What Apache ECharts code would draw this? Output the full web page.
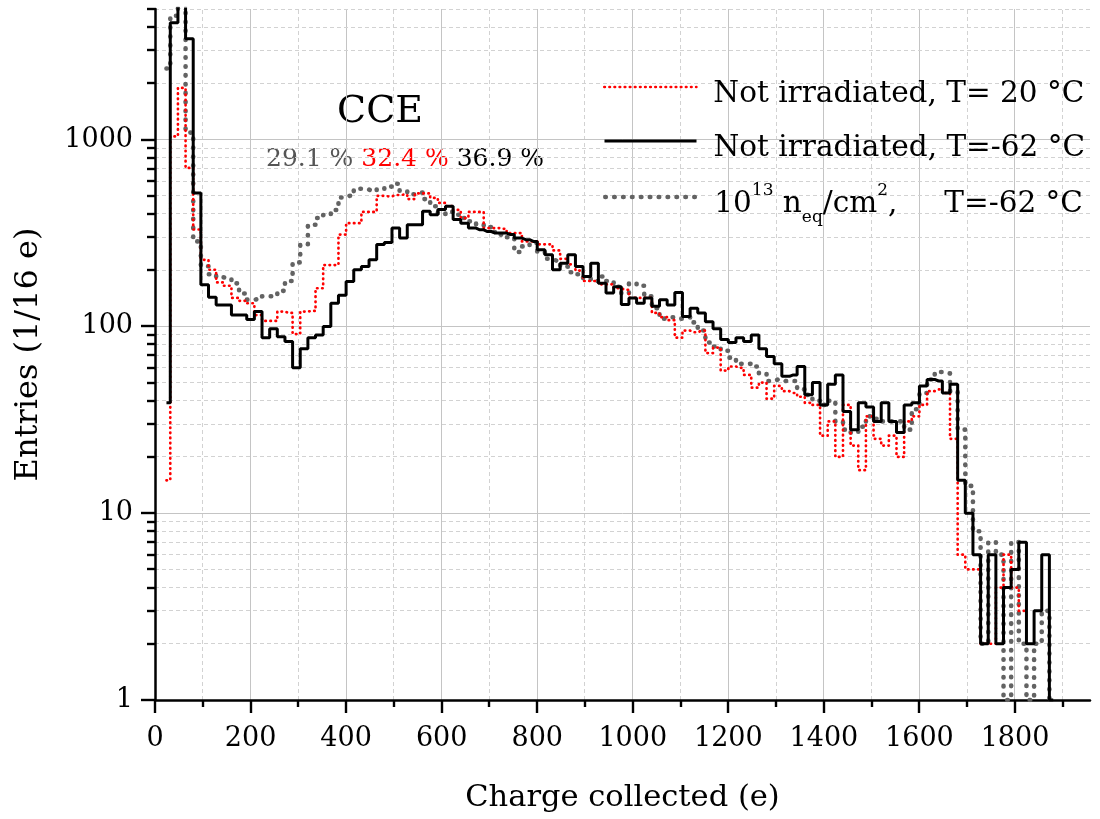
<!DOCTYPE html>
<html>
<head>
<meta charset="utf-8">
<script src="https://cdn.jsdelivr.net/npm/echarts@6/dist/echarts.min.js"></script>
<style>
  html, body { margin: 0; padding: 0; background: #ffffff; }
  #chart { width: 1100px; height: 819px; }
</style>
</head>
<body>
<div id="chart"></div>
<script>
// Bin centres of the charge histograms (16 e wide bins)
const charge = [
  24, 40, 56, 72, 88, 104, 120, 136, 152, 168, 184, 200, 216, 232, 248, 264, 280, 296, 312, 328,
  344, 360, 376, 392, 408, 424, 440, 456, 472, 488, 504, 520, 536, 552, 568, 584, 600, 616, 632, 648,
  664, 680, 696, 712, 728, 744, 760, 776, 792, 808, 824, 840, 856, 872, 888, 904, 920, 936, 952, 968,
  984, 1000, 1016, 1032, 1048, 1064, 1080, 1096, 1112, 1128, 1144, 1160, 1176, 1192, 1208, 1224, 1240, 1256, 1272, 1288,
  1304, 1320, 1336, 1352, 1368, 1384, 1400, 1416, 1432, 1448, 1464, 1480, 1496, 1512, 1528, 1544, 1560, 1576, 1592, 1608,
  1624, 1640, 1656, 1672, 1688, 1704, 1720, 1736, 1752, 1768, 1784, 1800, 1816, 1832, 1848, 1864, 1880
];

// Not irradiated, T = 20 °C
const notIrradiated20 = [
  15, 1040, 1890, 705, 330, 227, 201, 172, 165, 142, 137, 133, 115, 107, 107, 120, 118, 91, 120, 121,
  160, 213, 213, 310, 357, 357, 410, 410, 500, 497, 505, 507, 480, 515, 515, 487, 458, 440, 420, 380,
  410, 410, 336, 336, 333, 316, 316, 285, 285, 275, 275, 255, 230, 215, 199, 175, 175, 168, 168, 160,
  157, 142, 142, 142, 118, 112, 108, 87, 95, 93, 95, 72, 77, 58, 61, 60, 55, 47, 50, 41,
  48, 45, 44, 42, 39, 38, 26, 31, 20, 38, 23, 17, 33, 25, 23, 26, 20, 31, 33, 38,
  45, 46, 44, 25, 6, 5, 5, 2, 2, 4, 6, 4, 3, null, null, null, null
];

// Not irradiated, T = -62 °C
const notIrradiatedM62 = [
  39, 4225, 5600, 3470, 518, 167, 143, 130, 130, 115, 115, 109, 120, 87, 97, 88, 83, 60, 76, 87,
  90, 100, 133, 147, 174, 201, 209, 227, 274, 281, 336, 297, 350, 350, 413, 396, 422, 440, 373, 357,
  336, 329, 322, 316, 316, 310, 297, 291, 285, 257, 242, 201, 218, 242, 209, 185, 218, 170, 151, 163,
  131, 142, 133, 142, 128, 139, 130, 152, 113, 125, 118, 106, 97, 85, 82, 87, 83, 90, 76, 69,
  63, 54, 55, 61, 43, 50, 38, 49, 55, 35, 28, 39, 37, 31, 39, 31, 27, 38, 39, 48,
  52, 51, 44, 49, 15, 10, 6, 2, 6, 2, 4, 5, 7, 2, 3, 6, 1
];

// 10^13 n_eq/cm^2, T = -62 °C
const irradiatedM62 = [
  2400, 4600, 5500, 1090, 285, 210, 190, 183, 180, 170, 150, 139, 140, 145, 145, 155, 175, 220, 275, 350,
  380, 395, 420, 490, 500, 545, 540, 530, 545, 560, 580, 530, 510, 520, 480, 440, 400, 410, 396, 380,
  365, 350, 340, 320, 310, 300, 250, 268, 280, 250, 230, 225, 209, 195, 190, 180, 175, 185, 175, 163,
  150, 170, 165, 145, 125, 110, 112, 110, 112, 105, 95, 82, 78, 74, 68, 63, 63, 61, 56, 51,
  52, 51, 51, 46, 43, 40, 38, 40, 31, 28, 27, 29, 33, 32, 31, 31, 31, 28, 36, 44,
  52, 57, 56, 45, 28, 14, 8, 2, 7, 6, 1, 7, 2, 1, 2, 3, 1
];

const seriesNames = [
  'Not irradiated, T= 20 °C',
  'Not irradiated, T=-62 °C',
  '10^13 n_eq/cm^2, T=-62 °C'
];

// Axis ticks
const xMajorTicks = [0, 200, 400, 600, 800, 1000, 1200, 1400, 1600, 1800];
const xMinorTicks = [100, 300, 500, 700, 900, 1100, 1300, 1500, 1700, 1900];
const yMajorTicks = [1, 10, 100, 1000];
const yMinorTicks = [
  2, 3, 4, 5, 6, 7, 8, 9,
  20, 30, 40, 50, 60, 70, 80, 90,
  200, 300, 400, 500, 600, 700, 800, 900,
  2000, 3000, 4000, 5000
];

// Charge collection efficiencies shown under the CCE heading
const cceLabels = ['29.1 %', '32.4 %', '36.9 %'];

const X_MIN = 0, X_MAX = 1957;
const Y_MIN = 1, Y_MAX = 5000;
const SERIF = '"DejaVu Serif", "Liberation Serif", serif';

const styles = [
  { color: '#ff0000', width: 2.7, type: [0.5, 4.6], cap: 'round', join: 'round' },
  { color: '#000000', width: 3, type: 'solid' },
  { color: '#636363', width: 4.6, type: [0.5, 8.4], cap: 'round', join: 'round' }
];

const chart = echarts.init(document.getElementById('chart'), null, { renderer: 'canvas' });

function crisp(v) { return Math.round(v - 0.5) + 0.5; }

// Grid lines: vertical at x values, horizontal at y values
function verticalGrid(dash, color) {
  return function (params, api) {
    const x = api.value(0);
    const a = api.coord([x, Y_MIN]);
    const b = api.coord([x, Y_MAX]);
    const px = crisp(a[0]);
    return { type: 'line', shape: { x1: px, y1: a[1], x2: px, y2: b[1] },
      style: { stroke: color, lineWidth: 1, lineDash: dash } };
  };
}
function horizontalGrid(dash, color) {
  return function (params, api) {
    const y = api.value(1);
    const a = api.coord([X_MIN, y]);
    const b = api.coord([X_MAX, y]);
    const py = crisp(a[1]);
    return { type: 'line', shape: { x1: a[0], y1: py, x2: b[0], y2: py },
      style: { stroke: color, lineWidth: 1, lineDash: dash } };
  };
}
// Outward tick marks on the bottom and left axes
function xTick(len) {
  return function (params, api) {
    const a = api.coord([api.value(0), Y_MIN]);
    const px = Math.round(a[0]);
    return { type: 'line', shape: { x1: px, y1: a[1], x2: px, y2: a[1] + len },
      style: { stroke: '#000', lineWidth: 2.4 } };
  };
}
function yTick(len) {
  return function (params, api) {
    const a = api.coord([X_MIN, api.value(1)]);
    const py = Math.round(a[1]);
    return { type: 'line', shape: { x1: a[0], y1: py, x2: a[0] - len, y2: py },
      style: { stroke: '#000', lineWidth: 2.4 } };
  };
}
function guide(values, axis, render, z) {
  const data = values.map(v => axis === 'x' ? [v, Y_MIN] : [X_MIN, v]);
  return { type: 'custom', silent: true, z: z, clip: false, animation: false,
    data: data, encode: { x: 0, y: 1 }, renderItem: render, tooltip: { show: false } };
}

const pairs = vals => charge.map((c, i) => [c, vals[i]]);

// One legend block per row so the three rows share a left edge
const legendRich = {
  t: { fontFamily: SERIF, fontSize: 29.5, color: '#000', lineHeight: 52 },
  sup: { fontFamily: SERIF, fontSize: 17, color: '#000', verticalAlign: 'top', padding: [4, 0, 0, 0] },
  sub: { fontFamily: SERIF, fontSize: 17, color: '#000', verticalAlign: 'bottom', padding: [0, 0, 4, 0] }
};
function legendRow(i, top) {
  return {
    orient: 'vertical', left: 603, top: top, align: 'left', padding: 0,
    itemWidth: 92, itemHeight: 20, selectedMode: false,
    itemStyle: { opacity: 0 },
    lineStyle: Object.assign({}, styles[i]),
    data: [seriesNames[i]],
    formatter: function (name) {
      if (name === seriesNames[2]) {
        return '{t|10}{sup|13}{t| n}{sub|eq}{t|/cm}{sup|2}{t|,     T=-62 °C}';
      }
      return '{t|' + name + '}';
    },
    textStyle: { padding: [14, 0, 0, 12], rich: legendRich }
  };
}

const option = {
  backgroundColor: '#ffffff',
  animation: false,
  grid: { left: 155, top: 9, right: 10, bottom: 119, outerBoundsMode: 'none' },
  xAxis: {
    type: 'value', min: X_MIN, max: X_MAX, interval: 200,
    name: 'Charge collected (e)', nameLocation: 'middle', nameGap: 83,
    nameTextStyle: { fontFamily: SERIF, fontSize: 30.5, color: '#000' },
    axisLine: { show: true, onZero: false, lineStyle: { color: '#000', width: 2.5 } },
    axisTick: { show: false },
    axisLabel: { fontFamily: SERIF, fontSize: 27, color: '#000', margin: 25, showMaxLabel: false,
      formatter: v => String(Math.round(v)) },
    splitLine: { show: false },
    minorTick: { show: false }
  },
  yAxis: {
    type: 'log', logBase: 10, min: Y_MIN, max: Y_MAX,
    name: 'Entries (1/16 e)', nameLocation: 'middle', nameGap: 110, nameRotate: 90,
    nameTextStyle: { fontFamily: SERIF, fontSize: 32, color: '#000' },
    axisLine: { show: true, onZero: false, lineStyle: { color: '#000', width: 2.5 } },
    axisTick: { show: false },
    axisLabel: { fontFamily: SERIF, fontSize: 27, color: '#000', margin: 22, showMaxLabel: false,
      formatter: v => String(Math.round(v)) },
    splitLine: { show: false },
    minorTick: { show: false }
  },
  legend: [legendRow(0, 79), legendRow(1, 133), legendRow(2, 182)],
  graphic: [
    { type: 'text', x: 380, y: 112, silent: true,
      style: { text: 'CCE', font: '38px ' + SERIF, fill: '#000',
        textAlign: 'center', textVerticalAlign: 'middle', align: 'center', verticalAlign: 'middle' } },
    { type: 'text', x: 405, y: 159, silent: true,
      style: {
        text: '{g|' + cceLabels[0] + '} {r|' + cceLabels[1] + '} {k|' + cceLabels[2] + '}',
        font: '25px ' + SERIF,
        textAlign: 'center', textVerticalAlign: 'middle', align: 'center', verticalAlign: 'middle',
        rich: {
          g: { fill: '#555555', font: '25px ' + SERIF },
          r: { fill: '#ff0000', font: '25px ' + SERIF },
          k: { fill: '#000000', font: '25px ' + SERIF }
        }
      } }
  ],
  series: [
    guide(xMinorTicks, 'x', verticalGrid([4, 3], '#d2d2d2'), 0),
    guide(xMajorTicks.slice(1), 'x', verticalGrid(null, '#c4c4c4'), 0),
    guide(yMinorTicks, 'y', horizontalGrid([4, 3], '#d2d2d2'), 0),
    guide(yMajorTicks.slice(1), 'y', horizontalGrid(null, '#c4c4c4'), 0),
    guide(xMajorTicks, 'x', xTick(13), 6),
    guide(xMinorTicks, 'x', xTick(7), 6),
    guide(yMajorTicks, 'y', yTick(14), 6),
    guide(yMinorTicks, 'y', yTick(8), 6),
    {
      name: seriesNames[2], type: 'line', step: 'middle', symbol: 'none', clip: true, z: 2,
      data: pairs(irradiatedM62), lineStyle: styles[2], itemStyle: { color: styles[2].color }
    },
    {
      name: seriesNames[0], type: 'line', step: 'middle', symbol: 'none', clip: true, z: 3,
      data: pairs(notIrradiated20), lineStyle: styles[0], itemStyle: { color: styles[0].color }
    },
    {
      name: seriesNames[1], type: 'line', step: 'middle', symbol: 'none', clip: true, z: 4,
      data: pairs(notIrradiatedM62), lineStyle: styles[1], itemStyle: { color: styles[1].color }
    }
  ]
};

chart.setOption(option);
</script>
</body>
</html>
